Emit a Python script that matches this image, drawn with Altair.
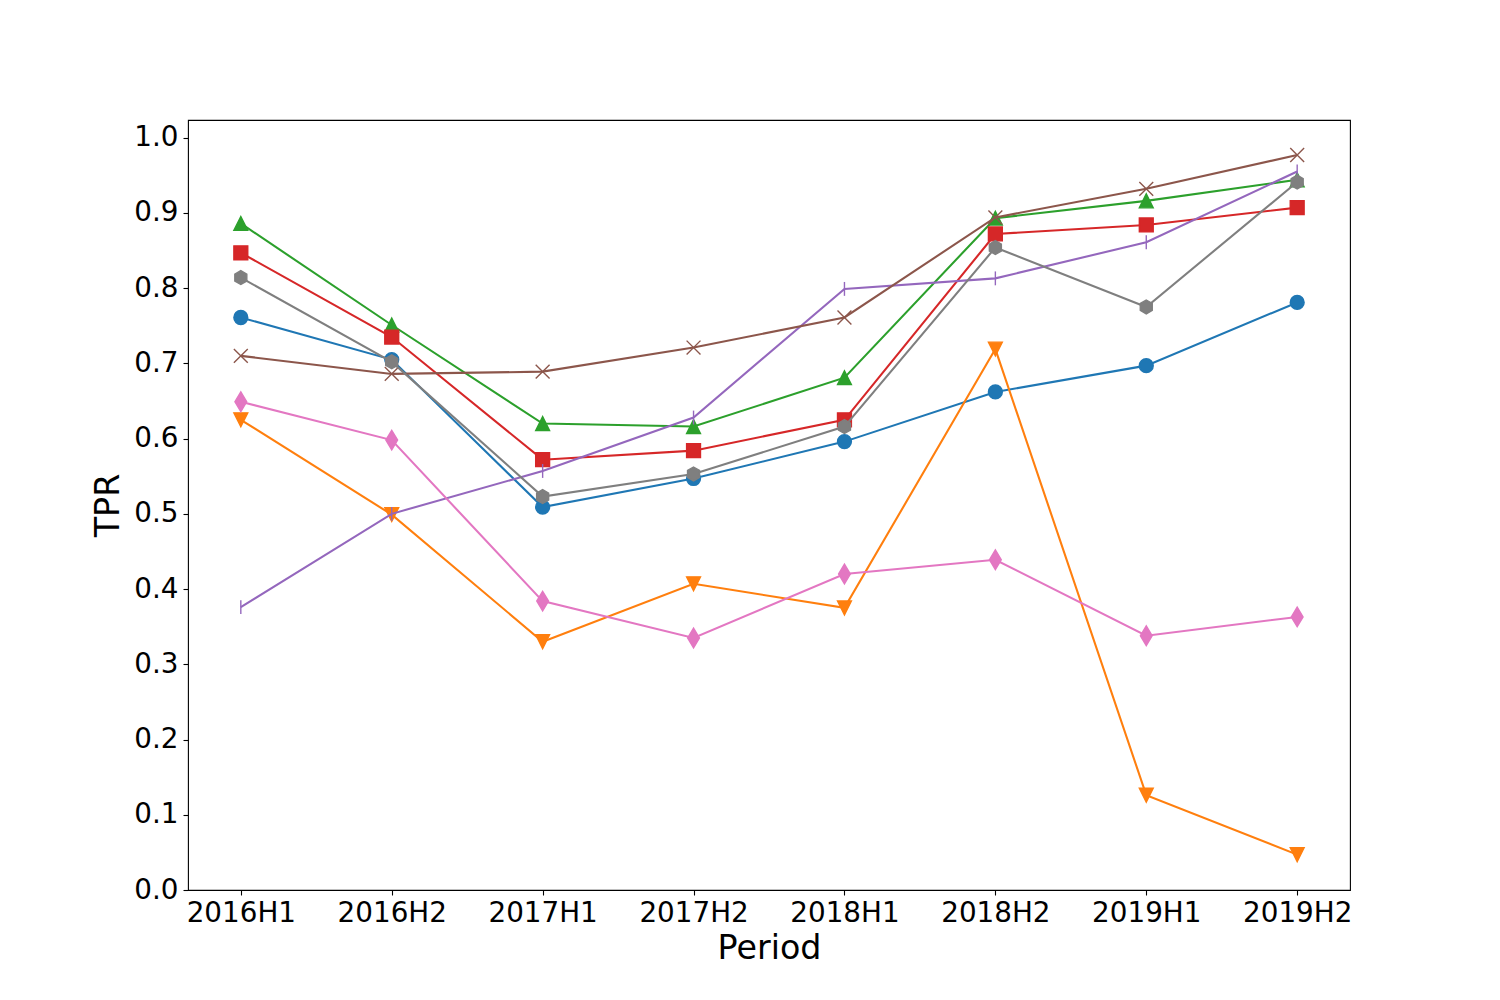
import altair as alt
import pandas as pd

periods = ["2016H1", "2016H2", "2017H1", "2017H2", "2018H1", "2018H2", "2019H1", "2019H2"]

s_blue = [0.761, 0.705, 0.509, 0.547, 0.596, 0.662, 0.697, 0.781]
s_orange = [0.625, 0.499, 0.330, 0.407, 0.375, 0.719, 0.126, 0.047]
s_green = [0.886, 0.751, 0.620, 0.616, 0.681, 0.893, 0.916, 0.944]
s_red = [0.847, 0.735, 0.572, 0.584, 0.625, 0.872, 0.884, 0.907]
s_purple = [0.376, 0.500, 0.557, 0.628, 0.799, 0.813, 0.861, 0.955]
s_brown = [0.710, 0.686, 0.689, 0.721, 0.761, 0.894, 0.932, 0.977]
s_pink = [0.649, 0.598, 0.384, 0.335, 0.420, 0.439, 0.338, 0.363]
s_gray = [0.814, 0.702, 0.523, 0.553, 0.616, 0.854, 0.775, 0.941]

series_values = [s_blue, s_orange, s_green, s_red, s_purple, s_brown, s_pink, s_gray]
series_colors = ["#1f77b4", "#ff7f0e", "#2ca02c", "#d62728", "#9467bd", "#8c564b", "#e377c2", "#7f7f7f"]
series_shapes = [
    "circle",
    "M-1,-1L1,-1L0,1Z",
    "M0,-1L1,1L-1,1Z",
    "M-1,-1L1,-1L1,1L-1,1Z",
    "M0,-1L0,1",
    "M-1,-1L1,1M-1,1L1,-1",
    "M0,-1.414L0.849,0L0,1.414L-0.849,0Z",
    "M0,-1L0.866,-0.5L0.866,0.5L0,1L-0.866,0.5L-0.866,-0.5Z",
]
series_filled = [True, True, True, True, False, False, True, True]
y_ticks = [round(i * 0.1, 1) for i in range(11)]

x_enc = alt.X(
    "period:O",
    sort=periods,
    scale=alt.Scale(type="point", padding=0.35),
    axis=alt.Axis(
        title="Period", labelAngle=0, labelFontSize=27.8, titleFontSize=33.3,
        titleFontWeight="normal", labelColor="black", titleColor="black",
        tickColor="black", tickSize=5, tickWidth=1.1, labelPadding=4,
        titlePadding=6, domain=False, grid=False, labelFont="DejaVu Sans",
        titleFont="DejaVu Sans",
    ),
)
y_enc = alt.Y(
    "tpr:Q",
    scale=alt.Scale(domain=[0.0, 1.0235], nice=False, zero=False),
    axis=alt.Axis(
        title="TPR", values=y_ticks, format=".1f", labelFontSize=27.8,
        titleFontSize=33.3, titleFontWeight="normal", labelColor="black",
        titleColor="black", tickColor="black", tickSize=5, tickWidth=1.1,
        labelPadding=5, titlePadding=8, domain=False, grid=False,
        labelFont="DejaVu Sans", titleFont="DejaVu Sans",
    ),
)

layers = []
for i, vals in enumerate(series_values):
    df = pd.DataFrame({"period": periods, "tpr": vals})
    base = alt.Chart(df)
    line = base.mark_line(color=series_colors[i], strokeWidth=2.08).encode(x=x_enc, y=y_enc)
    if series_filled[i]:
        pt = base.mark_point(
            shape=series_shapes[i], size=193, filled=True, fill=series_colors[i],
            stroke=series_colors[i], strokeWidth=1.39, opacity=1,
        ).encode(x=x_enc, y=y_enc)
    else:
        pt = base.mark_point(
            shape=series_shapes[i], size=193, filled=False,
            stroke=series_colors[i], strokeWidth=1.39, opacity=1,
        ).encode(x=x_enc, y=y_enc)
    layers.append(line)
    layers.append(pt)

chart = alt.layer(*layers).properties(
    width=1162,
    height=770,
    autosize=alt.AutoSizeParams(type="none"),
    padding={"left": 180, "top": 112, "right": 142, "bottom": 102},
).configure(background="white").configure_view(stroke="black", strokeWidth=1.1)

chart.save("out.html", embed_options={"renderer": "svg", "actions": False})
